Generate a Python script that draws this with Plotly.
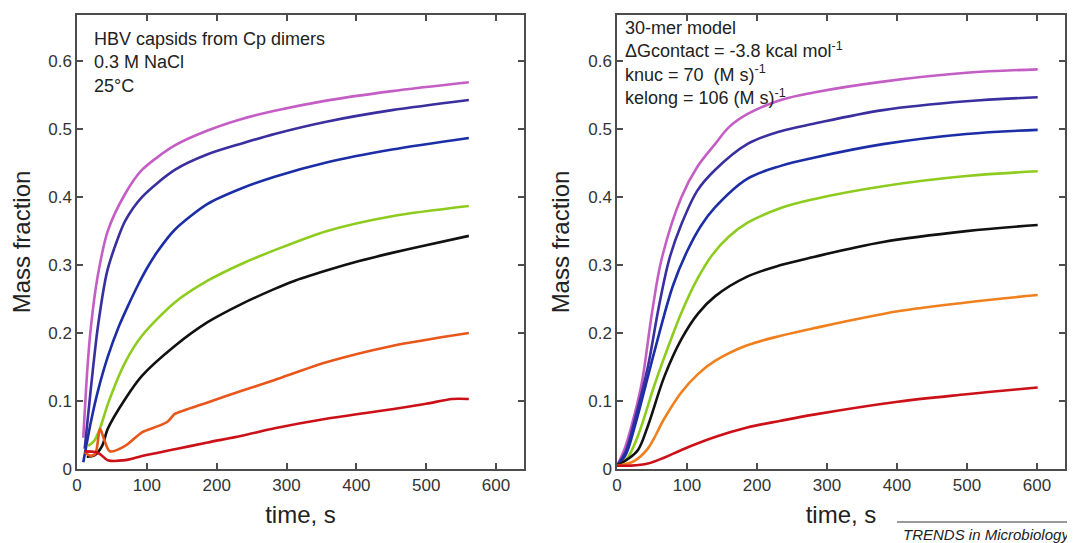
import plotly.graph_objects as go

# ---------------- Data ----------------
# Left panel: experimental HBV capsid assembly
exp_magenta_t = [9, 15, 20, 29, 44, 69, 93, 140, 187, 236, 283, 357, 451, 561]
exp_magenta_v = [0.046, 0.15, 0.21, 0.28, 0.35, 0.405, 0.44, 0.476, 0.498, 0.515, 0.527, 0.542, 0.556, 0.569]

exp_purple_t = [11, 20, 30, 43, 57, 69, 93, 140, 187, 236, 283, 357, 451, 561]
exp_purple_v = [0.03, 0.12, 0.21, 0.29, 0.335, 0.365, 0.40, 0.44, 0.463, 0.479, 0.493, 0.511, 0.528, 0.543]

exp_blue_t = [9, 20, 30, 44, 60, 73, 87, 100, 114, 140, 187, 236, 283, 357, 451, 561]
exp_blue_v = [0.01, 0.07, 0.115, 0.165, 0.21, 0.24, 0.27, 0.295, 0.318, 0.352, 0.39, 0.413, 0.43, 0.451, 0.47, 0.487]

exp_green_t = [16, 25, 33, 45, 69, 93, 140, 187, 236, 283, 357, 451, 561]
exp_green_v = [0.034, 0.042, 0.06, 0.098, 0.157, 0.196, 0.245, 0.277, 0.302, 0.322, 0.350, 0.372, 0.387]

exp_black_t = [14, 25, 36, 44, 69, 93, 140, 187, 236, 283, 309, 357, 404, 451, 490, 561]
exp_black_v = [0.018, 0.02, 0.034, 0.059, 0.103, 0.137, 0.181, 0.216, 0.243, 0.265, 0.276, 0.292, 0.306, 0.318, 0.327, 0.343]

exp_orange_t = [11, 18, 26, 33, 40, 47, 69, 93, 116, 130, 137, 140, 187, 236, 283, 357, 451, 561]
exp_orange_v = [0.025, 0.02, 0.022, 0.059, 0.04, 0.026, 0.034, 0.054, 0.063, 0.07, 0.078, 0.081, 0.098, 0.115, 0.131, 0.157, 0.181, 0.2]

exp_red_t = [11, 26, 33, 44, 69, 93, 140, 187, 236, 283, 357, 451, 500, 537, 561]
exp_red_v = [0.026, 0.025, 0.022, 0.013, 0.013, 0.019, 0.029, 0.039, 0.049, 0.06, 0.074, 0.088, 0.096, 0.103, 0.103]

# Right panel: 30-mer model
mod_magenta_t = [0, 11, 25, 36, 50, 64, 92, 115, 140, 160, 186, 234, 281, 380, 499, 601]
mod_magenta_v = [0.005, 0.03, 0.08, 0.13, 0.23, 0.31, 0.40, 0.445, 0.478, 0.503, 0.522, 0.543, 0.554, 0.57, 0.583, 0.588]

mod_purple_t = [0, 12, 26, 44, 60, 75, 92, 115, 140, 186, 234, 281, 380, 499, 601]
mod_purple_v = [0.005, 0.025, 0.075, 0.15, 0.24, 0.31, 0.36, 0.41, 0.44, 0.478, 0.497, 0.508, 0.528, 0.541, 0.547]

mod_blue_t = [0, 12, 26, 54, 80, 100, 120, 140, 186, 234, 281, 380, 499, 601]
mod_blue_v = [0.005, 0.02, 0.065, 0.175, 0.27, 0.32, 0.358, 0.385, 0.427, 0.446, 0.458, 0.478, 0.493, 0.499]

mod_green_t = [0, 14, 30, 54, 75, 92, 115, 136, 160, 186, 234, 281, 380, 499, 601]
mod_green_v = [0.005, 0.015, 0.049, 0.125, 0.185, 0.23, 0.28, 0.315, 0.342, 0.362, 0.384, 0.397, 0.416, 0.431, 0.438]

mod_black_t = [0, 16, 30, 44, 68, 92, 116, 140, 186, 234, 281, 380, 499, 601]
mod_black_v = [0.005, 0.015, 0.028, 0.063, 0.137, 0.191, 0.229, 0.254, 0.283, 0.300, 0.312, 0.334, 0.35, 0.359]

mod_orange_t = [0, 11, 25, 44, 68, 92, 116, 140, 186, 234, 281, 401, 499, 601]
mod_orange_v = [0.005, 0.007, 0.012, 0.03, 0.075, 0.113, 0.140, 0.159, 0.182, 0.196, 0.207, 0.232, 0.245, 0.256]

mod_red_t = [0, 20, 44, 68, 92, 140, 186, 234, 281, 401, 499, 601]
mod_red_v = [0.005, 0.005, 0.008, 0.017, 0.028, 0.047, 0.061, 0.071, 0.08, 0.099, 0.11, 0.12]

x_ticks = [0, 100, 200, 300, 400, 500, 600]
y_ticks = [0, 0.1, 0.2, 0.3, 0.4, 0.5, 0.6]
y_tick_text = ["0", "0.1", "0.2", "0.3", "0.4", "0.5", "0.6"]

left_series = [
    (exp_magenta_t, exp_magenta_v, "#c45ec4"),
    (exp_purple_t, exp_purple_v, "#3a2f9e"),
    (exp_blue_t, exp_blue_v, "#1b2ea6"),
    (exp_green_t, exp_green_v, "#8dcc1e"),
    (exp_black_t, exp_black_v, "#111111"),
    (exp_orange_t, exp_orange_v, "#e8561a"),
    (exp_red_t, exp_red_v, "#cc1018"),
]
right_series = [
    (mod_magenta_t, mod_magenta_v, "#c45ec4"),
    (mod_purple_t, mod_purple_v, "#3a2f9e"),
    (mod_blue_t, mod_blue_v, "#1b2ea6"),
    (mod_green_t, mod_green_v, "#8dcc1e"),
    (mod_black_t, mod_black_v, "#111111"),
    (mod_orange_t, mod_orange_v, "#f0801e"),
    (mod_red_t, mod_red_v, "#cc1018"),
]

fig = go.Figure()
for t, v, c in left_series:
    fig.add_trace(go.Scatter(x=t, y=v, mode="lines", xaxis="x", yaxis="y",
                             line=dict(color=c, width=2.6, shape="spline", smoothing=0.8),
                             showlegend=False))
for t, v, c in right_series:
    fig.add_trace(go.Scatter(x=t, y=v, mode="lines", xaxis="x2", yaxis="y2",
                             line=dict(color=c, width=2.6, shape="spline", smoothing=1.0),
                             showlegend=False))

# The page body has an 8 px default margin: size the figure so it fits the window.
OFF = 8
W, H = 1075 - OFF, 543 - OFF


def px(x):
    return (x - OFF) / W


def py(y):
    return 1 - (y - OFF) / H


FONT = "Liberation Sans, Arial, sans-serif"
axis_common = dict(showline=True, linecolor="#4d4d4d", linewidth=1.5, mirror="ticks",
                   ticks="inside", ticklen=6, tickcolor="#4d4d4d", tickwidth=1.5,
                   showgrid=False, zeroline=False, automargin=False,
                   tickfont=dict(family=FONT, size=17, color="#333333"))

xaxis_common = dict(axis_common, range=[0, 640], tickvals=x_ticks,
                    title=dict(text="time, s", font=dict(family=FONT, size=24, color="#222222"), standoff=12))
yaxis_common = dict(axis_common, range=[0, 0.668], tickvals=y_ticks, ticktext=y_tick_text,
                    title=dict(text="Mass fraction", font=dict(family=FONT, size=24, color="#222222"), standoff=12))

fig.update_layout(
    width=W, height=H,
    margin=dict(l=0, r=0, t=0, b=0),
    paper_bgcolor="white", plot_bgcolor="white",
    xaxis=dict(xaxis_common, domain=[px(77), px(524)], anchor="y"),
    yaxis=dict(yaxis_common, domain=[py(469), py(15)], anchor="x"),
    xaxis2=dict(xaxis_common, domain=[px(617), px(1065)], anchor="y2"),
    yaxis2=dict(yaxis_common, domain=[py(469), py(15)], anchor="x2"),
)

ann_font = dict(family=FONT, size=18, color="#222222")
left_text = "HBV capsids from Cp dimers<br>0.3 M NaCl<br>25°C"
right_text = ("30-mer model<br>ΔGcontact = -3.8 kcal mol<sup>-1</sup><br>"
              "knuc = 70  (M s)<sup>-1</sup><br>kelong = 106 (M s)<sup>-1</sup>")
fig.add_annotation(x=px(92), y=py(27), xref="paper", yref="paper",
                   text=left_text, showarrow=False, xanchor="left", yanchor="top",
                   align="left", font=ann_font)
fig.add_annotation(x=px(623), y=py(16), xref="paper", yref="paper",
                   text=right_text, showarrow=False, xanchor="left", yanchor="top",
                   align="left", font=ann_font)

fig.add_annotation(x=px(1072), y=py(545), xref="paper", yref="paper",
                   text="TRENDS in Microbiology", showarrow=False,
                   xanchor="right", yanchor="bottom",
                   font=dict(family=FONT, size=15, color="#222222", style="italic"))
fig.add_shape(type="line", xref="paper", yref="paper",
              x0=px(897), x1=px(1073), y0=py(522), y1=py(522),
              line=dict(color="#333333", width=1))

fig.write_html("out.html")
